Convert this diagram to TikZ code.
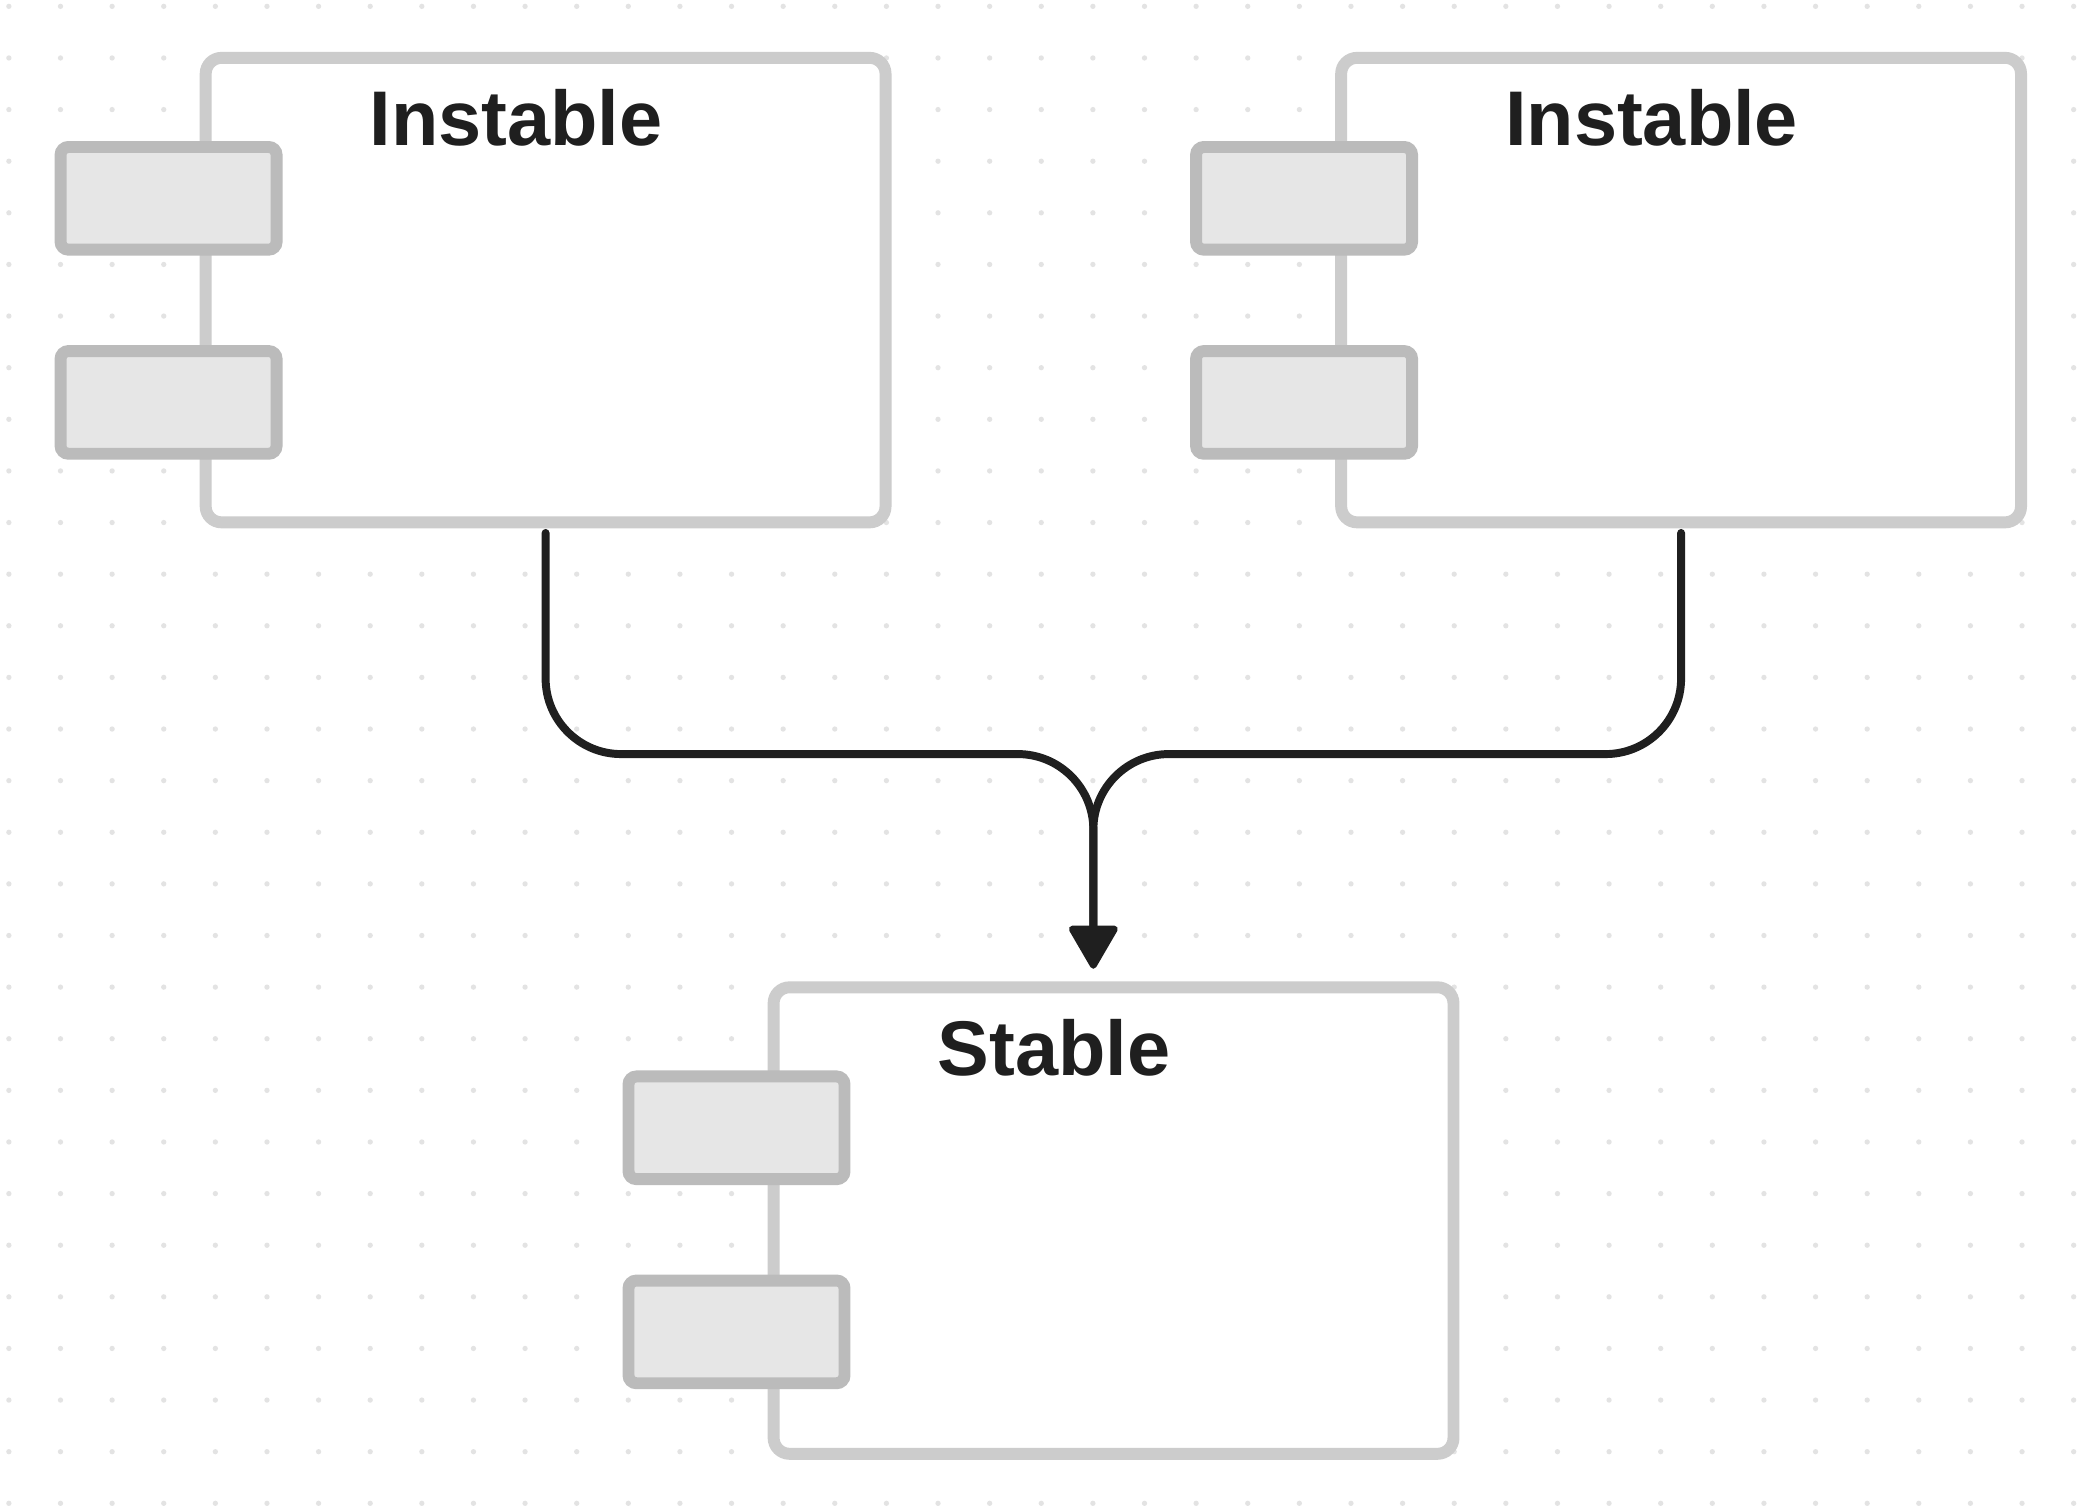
\documentclass[tikz,border=0pt]{standalone}
\usepackage{fontspec}
\setmainfont{Liberation Sans}
\usetikzlibrary{arrows.meta}
\definecolor{boxline}{HTML}{CCCCCC}
\definecolor{portline}{HTML}{BBBBBB}
\definecolor{portfill}{HTML}{E6E6E6}
\definecolor{dotc}{HTML}{E3E3E3}
\definecolor{ink}{HTML}{1F1F1F}
\tikzset{
  compbox/.style={draw=boxline, line width=9pt, fill=white, rectangle, rounded corners=12pt,
    minimum width=513pt, minimum height=350.5pt, inner sep=0pt, outer sep=0pt},
  portbox/.style={draw=portline, line width=9pt, fill=portfill, rectangle, rounded corners=6pt,
    minimum width=163pt, minimum height=77.5pt, inner sep=0pt, outer sep=0pt},
  title/.style={font=\bfseries\fontsize{58.5}{60}\selectfont, text=ink, inner sep=0pt, anchor=base west},
  conn/.style={draw=ink, line width=6pt, line cap=round, rounded corners=57pt},
  head/.style={fill=ink, draw=ink, line width=5pt, line join=round}
}
\begin{document}
\begin{tikzpicture}[x=1pt,y=-1pt]
\fill[white] (0,0) rectangle (1568,1136.4);
\useasboundingbox (0,0) rectangle (1568,1136.4);
% dot grid
\foreach \i in {0,...,40}{
  \foreach \j in {0,...,29}{
    \fill[dotc] (6.7+38.95*\i, 4.8+38.95*\j) circle[radius=2pt];
  }
}
% components
\node[compbox] (i1) at (411.7,218.9) {};
\node[compbox] (i2) at (1268.5,218.9) {};
\node[compbox, minimum height=352pt] (s) at (840.25,921) {};
% ports
\foreach \b in {i1,i2,s}{
  \node[portbox] (\b pa) at ([xshift=-28pt,yshift=-106pt]\b.north west) {};
  \node[portbox] (\b pb) at ([xshift=-28pt,yshift=-260pt]\b.north west) {};
}
% titles
\node[title] (t1) at ([xshift=123.5pt,yshift=-66.2pt]i1.north west) {Instable};
\node[title] (t2) at ([xshift=123.5pt,yshift=-66.2pt]i2.north west) {Instable};
\node[title] (t3) at ([xshift=123.5pt,yshift=-66.2pt]s.north west) {Stable};
% connectors
\coordinate (mid) at (825,569);
\coordinate (base) at (825,701);
\coordinate (tip) at (825,728.5);
\draw[conn] ([yshift=-8pt]i1.south) |- (mid) -- (base);
\draw[conn] ([yshift=-8pt]i2.south) |- (mid) -- (base);
\draw[head] ([xshift=-16pt]base) -- ([xshift=16pt]base) -- (tip) -- cycle;
\end{tikzpicture}
\end{document}
